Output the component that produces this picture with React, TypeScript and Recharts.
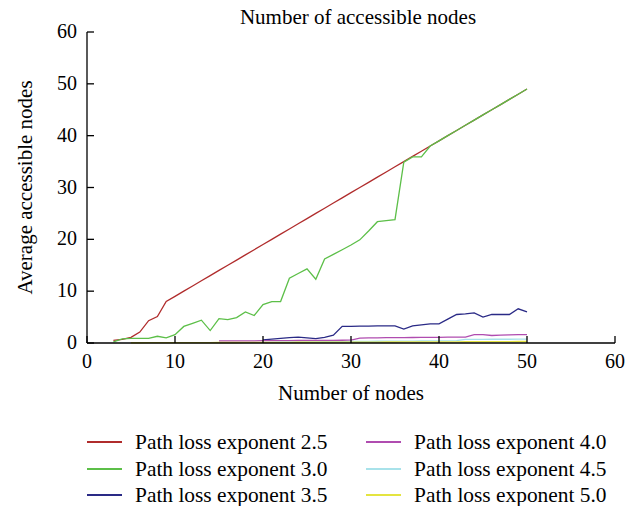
import React from 'react'
import { LineChart, Line, XAxis, YAxis } from 'recharts'

// x values: number of nodes
const nodes = [
  3, 4, 5, 6, 7, 8, 9, 10, 11, 12, 13, 14, 15, 16, 17, 18, 19, 20, 21, 22, 23, 24, 25, 26,
  27, 28, 29, 30, 31, 32, 33, 34, 35, 36, 37, 38, 39, 40, 41, 42, 43, 44, 45, 46, 47, 48, 49, 50
]

// average accessible nodes per path loss exponent (null = not plotted)
const exp25 = [
  0.5, 0.7, 1.1, 2.1, 4.3, 5.1, 8, 9, 10, 11, 12, 13, 14, 15, 16, 17, 18, 19, 20, 21, 22, 23, 24, 25,
  26, 27, 28, 29, 30, 31, 32, 33, 34, 35, 36, 37, 38, 39, 40, 41, 42, 43, 44, 45, 46, 47, 48, 49
]
const exp30 = [
  0.2, 0.8, 0.9, 0.9, 0.9, 1.3, 1.0, 1.6, 3.2, 3.8, 4.4, 2.4, 4.7, 4.5, 4.9, 6.0, 5.3, 7.4, 8.0, 8.0, 12.5, 13.4, 14.3, 12.3,
  16.2, 17.1, 18.0, 18.9, 19.9, 21.6, 23.4, 23.6, 23.8, 34.9, 35.9, 35.9, 38, 39, 40, 41, 42, 43, 44, 45, 46, 47, 48, 49
]
const exp35 = [
  null, null, null, null, null, null, null, null, null, null, null, null, null, null, null, null, null, 0.6, 0.75, 0.9, 1.05, 1.15, 1.0, 0.85,
  1.1, 1.5, 3.2, 3.2, 3.25, 3.25, 3.3, 3.3, 3.3, 2.7, 3.3, 3.5, 3.7, 3.7, 4.6, 5.5, 5.6, 5.8, 5.0, 5.5, 5.5, 5.5, 6.6, 6.0
]
const exp40 = [
  null, null, null, null, null, null, null, null, null, null, null, null, 0.4, 0.4, 0.4, 0.42, 0.42, 0.44, 0.45, 0.46, 0.47, 0.48, 0.5, 0.5,
  0.5, 0.52, 0.53, 0.55, 0.95, 1.0, 1.0, 1.02, 1.04, 1.05, 1.06, 1.08, 1.1, 1.1, 1.12, 1.13, 1.15, 1.6, 1.6, 1.45, 1.5, 1.55, 1.6, 1.6
]
const exp45 = [
  null, null, null, null, null, null, null, null, null, null, null, null, null, null, null, null, null, 0.1, 0.12, 0.14, 0.16, 0.18, 0.2, 0.22,
  0.24, 0.26, 0.28, 0.3, 0.32, 0.33, 0.34, 0.35, 0.36, 0.37, 0.38, 0.39, 0.4, 0.4, 0.42, 0.45, 0.7, 0.7, 0.7, 0.72, 0.72, 0.72, 0.74, 0.74
]
const exp50 = [
  null, null, 0.05, 0.05, 0.06, 0.06, 0.07, 0.07, 0.08, 0.08, 0.09, 0.09, 0.1, 0.1, 0.1, 0.11, 0.11, 0.12, 0.12, 0.13, 0.13, 0.14, 0.14, 0.15,
  0.15, 0.16, 0.16, 0.17, 0.17, 0.18, 0.18, 0.19, 0.19, 0.2, 0.2, 0.21, 0.21, 0.22, 0.22, 0.23, 0.24, 0.25, 0.25, 0.26, 0.27, 0.28, 0.29, 0.3
]

const seriesNames = [
  'Path loss exponent 2.5',
  'Path loss exponent 3.0',
  'Path loss exponent 3.5',
  'Path loss exponent 4.0',
  'Path loss exponent 4.5',
  'Path loss exponent 5.0'
]
const seriesColors = ['#b02c2c', '#5cbf48', '#2a2a86', '#b04cb0', '#a8e2ea', '#e4e440']
const seriesValues = [exp25, exp30, exp35, exp40, exp45, exp50]

const xTicks = [0, 10, 20, 30, 40, 50, 60]
const yTicks = [0, 10, 20, 30, 40, 50, 60]

const FONT = "'Liberation Serif', 'Times New Roman', Tinos, 'DejaVu Serif', serif"

const data = nodes.map((n, i) => {
  const row: Record<string, number | null> = { n }
  seriesValues.forEach((vals, k) => {
    row['s' + k] = vals[i]
  })
  return row
})

const BottomTick = (props: any) => {
  const { x, y, payload } = props
  return (
    <g>
      <line x1={x} y1={y} x2={x} y2={y - 7} stroke="#000" strokeWidth={1.3} />
      <text x={x} y={y + 25} textAnchor="middle" style={{ fontSize: 20, fontFamily: FONT }} fill="#000">
        {payload.value}
      </text>
    </g>
  )
}

const TopTick = (props: any) => {
  const { x, y } = props
  return <line x1={x} y1={y} x2={x} y2={y + 7} stroke="#000" strokeWidth={1.3} />
}

const LeftTick = (props: any) => {
  const { x, y, payload } = props
  return (
    <g>
      <line x1={x} y1={y} x2={x + 7} y2={y} stroke="#000" strokeWidth={1.3} />
      <text x={x - 10} y={y + 6} textAnchor="end" style={{ fontSize: 20, fontFamily: FONT }} fill="#000">
        {payload.value}
      </text>
    </g>
  )
}

const RightTick = (props: any) => {
  const { x, y } = props
  return <line x1={x} y1={y} x2={x - 7} y2={y} stroke="#000" strokeWidth={1.3} />
}

const App = () => {
  const axisLine = { stroke: '#000', strokeWidth: 1.3 }
  return (
    <div style={{ position: 'relative', width: 628, height: 498, fontFamily: FONT }}>
      <div
        style={{
          position: 'absolute',
          left: 350,
          top: -3,
          transform: 'translateX(-50%)',
          whiteSpace: 'nowrap',
          fontSize: 21,
          lineHeight: '24px',
          color: '#000'
        }}
      >
        Number of accessible nodes
      </div>
      <LineChart
        width={628}
        height={498}
        data={data}
        margin={{ top: 24, right: 21, bottom: 103, left: 0 }}
        style={{ fontFamily: FONT }}
      >
        <XAxis
          dataKey="n"
          type="number"
          domain={[0, 60]}
          ticks={xTicks}
          interval={0}
          height={60}
          tickSize={0}
          tickMargin={0}
          tickLine={false}
          axisLine={axisLine}
          tick={<BottomTick />}
          label={{
            value: 'Number of nodes',
            position: 'insideBottom',
            offset: 3,
            style: { fontSize: 21, fontFamily: FONT, fill: '#000' }
          }}
        />
        <XAxis
          xAxisId="top"
          orientation="top"
          dataKey="n"
          type="number"
          domain={[0, 60]}
          ticks={xTicks}
          interval={0}
          height={0}
          tickSize={0}
          tickMargin={0}
          tickLine={false}
          axisLine={axisLine}
          tick={<TopTick />}
        />
        <YAxis
          type="number"
          domain={[0, 60]}
          ticks={yTicks}
          interval={0}
          width={79}
          tickSize={0}
          tickMargin={0}
          tickLine={false}
          axisLine={axisLine}
          tick={<LeftTick />}
          label={{
            value: 'Average accessible nodes',
            angle: -90,
            position: 'insideLeft',
            offset: 17,
            style: { fontSize: 21, fontFamily: FONT, fill: '#000', textAnchor: 'middle' }
          }}
        />
        <YAxis
          yAxisId="right"
          orientation="right"
          type="number"
          domain={[0, 60]}
          ticks={yTicks}
          interval={0}
          width={0}
          tickSize={0}
          tickMargin={0}
          tickLine={false}
          axisLine={axisLine}
          tick={<RightTick />}
        />
        {seriesNames.map((name, k) => (
          <Line
            key={name}
            name={name}
            dataKey={'s' + k}
            stroke={seriesColors[k]}
            strokeWidth={1.3}
            dot={false}
            activeDot={false}
            isAnimationActive={false}
          />
        ))}
      </LineChart>
      {seriesNames.map((name, k) => {
        const col = Math.floor(k / 3)
        const row = k % 3
        const left = col === 0 ? 79 : 358
        const top = 421 + row * 26.5
        return (
          <div
            key={name}
            style={{
              position: 'absolute',
              left,
              top,
              height: 26,
              display: 'flex',
              alignItems: 'center',
              whiteSpace: 'nowrap',
              fontSize: 21.4,
              lineHeight: '26px',
              color: '#000'
            }}
          >
            <span
              style={{
                display: 'inline-block',
                width: 35,
                height: 2,
                background: seriesColors[k],
                marginRight: 13
              }}
            />
            <span>{name}</span>
          </div>
        )
      })}
    </div>
  )
}

export default App
